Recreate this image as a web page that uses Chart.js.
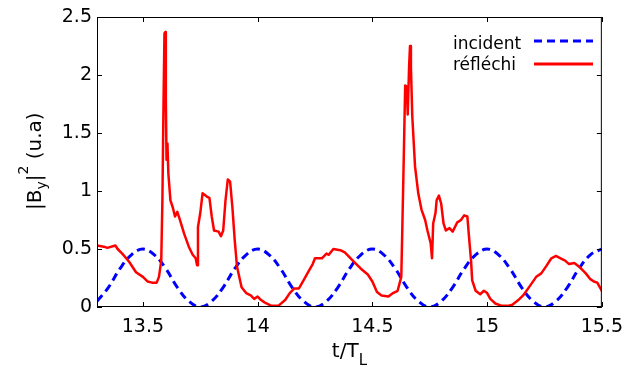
<!DOCTYPE html>
<html>
<head>
<meta charset="utf-8">
<script src="https://cdn.jsdelivr.net/npm/chart.js@4"></script>
<style>
  body { margin: 0; background: #fff; }
  #wrap { width: 632px; height: 367px; }
</style>
</head>
<body>
<div id="wrap"><canvas id="myChart"></canvas></div>
<script>
// incident field
const incidentT = [
  13.30, 13.35, 13.40, 13.45, 13.50, 13.55, 13.60, 13.65, 13.70, 13.75,
  13.80, 13.85, 13.90, 13.95, 14.00, 14.05, 14.10, 14.15, 14.20, 14.25,
  14.30, 14.35, 14.40, 14.45, 14.50, 14.55, 14.60, 14.65, 14.70, 14.75,
  14.80, 14.85, 14.90, 14.95, 15.00, 15.05, 15.10, 15.15, 15.20, 15.25,
  15.30, 15.35, 15.40, 15.45, 15.50,
];
const incidentB = [
  0.05, 0.17, 0.33, 0.45, 0.50, 0.45, 0.33, 0.17, 0.05, 0.00,
  0.05, 0.17, 0.33, 0.45, 0.50, 0.45, 0.33, 0.17, 0.05, 0.00,
  0.05, 0.17, 0.33, 0.45, 0.50, 0.45, 0.33, 0.17, 0.05, 0.00,
  0.05, 0.17, 0.33, 0.45, 0.50, 0.45, 0.33, 0.17, 0.05, 0.00,
  0.05, 0.17, 0.33, 0.45, 0.50,
];

// reflected field
const reflT = [
  13.300, 13.330, 13.345, 13.380, 13.390, 13.410, 13.440, 13.470, 13.500, 13.520,
  13.540, 13.560, 13.570, 13.580, 13.585, 13.590, 13.594, 13.598, 13.600, 13.603,
  13.607, 13.611, 13.620, 13.630, 13.640, 13.650, 13.660, 13.680, 13.700, 13.717,
  13.730, 13.736, 13.740, 13.750, 13.760, 13.780, 13.790, 13.800, 13.810, 13.830,
  13.840, 13.850, 13.860, 13.870, 13.880, 13.890, 13.900, 13.910, 13.930, 13.950,
  13.970, 13.985, 14.000, 14.015, 14.030, 14.060, 14.090, 14.120, 14.140, 14.160,
  14.180, 14.200, 14.220, 14.240, 14.250, 14.280, 14.300, 14.310, 14.330, 14.360,
  14.380, 14.400, 14.420, 14.450, 14.480, 14.500, 14.520, 14.540, 14.570, 14.590,
  14.610, 14.626, 14.630, 14.636, 14.643, 14.650, 14.654, 14.660, 14.664, 14.668,
  14.674, 14.686, 14.700, 14.714, 14.730, 14.740, 14.754, 14.760, 14.765, 14.775,
  14.780, 14.790, 14.800, 14.810, 14.820, 14.836, 14.850, 14.870, 14.886, 14.900,
  14.914, 14.920, 14.930, 14.935, 14.950, 14.970, 14.986, 15.000, 15.014, 15.036,
  15.064, 15.090, 15.110, 15.136, 15.157, 15.186, 15.214, 15.236, 15.257, 15.280,
  15.300, 15.320, 15.340, 15.357, 15.380, 15.400, 15.430, 15.450, 15.465, 15.480,
  15.500,
];
const reflB = [
  0.53, 0.52, 0.51, 0.53, 0.50, 0.46, 0.39, 0.30, 0.26, 0.22,
  0.21, 0.21, 0.26, 0.40, 0.92, 1.78, 2.36, 2.37, 1.78, 1.27,
  1.41, 1.15, 0.92, 0.86, 0.78, 0.82, 0.76, 0.63, 0.52, 0.45,
  0.42, 0.36, 0.69, 0.81, 0.98, 0.95, 0.94, 0.78, 0.66, 0.65,
  0.61, 0.66, 0.92, 1.10, 1.08, 0.86, 0.58, 0.35, 0.17, 0.12,
  0.10, 0.07, 0.09, 0.06, 0.04, 0.01, 0.01, 0.06, 0.12, 0.16,
  0.16, 0.23, 0.30, 0.37, 0.42, 0.42, 0.46, 0.45, 0.50, 0.49,
  0.47, 0.43, 0.39, 0.33, 0.28, 0.22, 0.13, 0.10, 0.09, 0.12,
  0.14, 0.26, 0.63, 1.21, 1.91, 1.90, 1.66, 2.07, 2.25, 2.07,
  1.64, 1.21, 0.98, 0.84, 0.75, 0.66, 0.55, 0.42, 0.72, 0.81,
  0.92, 0.96, 0.89, 0.72, 0.66, 0.68, 0.65, 0.73, 0.75, 0.79,
  0.78, 0.63, 0.40, 0.23, 0.14, 0.11, 0.14, 0.12, 0.07, 0.03,
  0.01, 0.01, 0.02, 0.06, 0.10, 0.18, 0.26, 0.29, 0.35, 0.42,
  0.44, 0.42, 0.40, 0.37, 0.38, 0.35, 0.29, 0.24, 0.22, 0.21,
  0.14,
];

const xTicks = [13.5, 14, 14.5, 15, 15.5];
const yTicks = [0, 0.5, 1, 1.5, 2, 2.5];
const seriesNames = ["incident", "réfléchi"];
const xTitle = ["t/T", "L"];
const yTitle = ["|B", "y", "|", "2", " (u.a)"];

const FONT = "DejaVu Sans";

function toPoints(xs, ys) {
  return xs.map((x, i) => ({ x: x, y: ys[i] }));
}

// frame, inward ticks, axis titles and legend, drawn like the original figure
const decorPlugin = {
  id: "decor",
  afterDraw(chart) {
    const ctx = chart.ctx;
    const a = chart.chartArea;
    const xs = chart.scales.x;
    const ys = chart.scales.y;
    ctx.save();
    ctx.strokeStyle = "#000";
    ctx.lineWidth = 1;
    ctx.strokeRect(a.left + 0.5, a.top + 0.5, a.right - a.left - 1, a.bottom - a.top - 1);

    const tl = 5;
    ctx.beginPath();
    xTicks.forEach((t) => {
      const px = Math.round(xs.getPixelForValue(t)) + 0.5;
      ctx.moveTo(px, a.bottom);
      ctx.lineTo(px, a.bottom - tl);
      ctx.moveTo(px, a.top);
      ctx.lineTo(px, a.top + tl);
    });
    yTicks.forEach((t) => {
      const py = Math.round(ys.getPixelForValue(t)) + 0.5;
      ctx.moveTo(a.left, py);
      ctx.lineTo(a.left + tl, py);
      ctx.moveTo(a.right, py);
      ctx.lineTo(a.right - tl, py);
    });
    ctx.stroke();

    // x title
    ctx.fillStyle = "#000";
    ctx.textBaseline = "alphabetic";
    ctx.font = "20px '" + FONT + "'";
    const w1 = ctx.measureText(xTitle[0]).width;
    ctx.font = "15px '" + FONT + "'";
    const w2 = ctx.measureText(xTitle[1]).width;
    const cx = (a.left + a.right) / 2;
    let x0 = cx - (w1 + w2) / 2;
    ctx.font = "20px '" + FONT + "'";
    ctx.fillText(xTitle[0], x0, 357);
    ctx.font = "15px '" + FONT + "'";
    ctx.fillText(xTitle[1], x0 + w1, 365);

    // y title
    ctx.save();
    ctx.translate(41, 210);
    ctx.rotate(-Math.PI / 2);
    let p = 0;
    const parts = [
      [yTitle[0], 20, 0],
      [yTitle[1], 14, 5],
      [yTitle[2], 20, 0],
      [yTitle[3], 14, -13],
      [yTitle[4], 20, 0],
    ];
    parts.forEach(([s, size, dy]) => {
      ctx.font = size + "px '" + FONT + "'";
      ctx.fillText(s, p, dy);
      p += ctx.measureText(s).width;
    });
    ctx.restore();

    // legend
    ctx.font = "17px '" + FONT + "'";
    ctx.fillText(seriesNames[0], 453, 49);
    ctx.fillText(seriesNames[1], 453, 70);
    ctx.lineWidth = 3;
    ctx.strokeStyle = "rgb(0,0,255)";
    ctx.setLineDash([8, 5]);
    ctx.beginPath();
    ctx.moveTo(534, 41);
    ctx.lineTo(593, 41);
    ctx.stroke();
    ctx.setLineDash([]);
    ctx.strokeStyle = "rgb(255,0,0)";
    ctx.beginPath();
    ctx.moveTo(534, 64);
    ctx.lineTo(593, 64);
    ctx.stroke();
    ctx.restore();
  },
};

const ctx = document.getElementById("myChart");
new Chart(ctx, {
  type: "line",
  data: {
    datasets: [
      {
        label: seriesNames[0],
        data: toPoints(incidentT, incidentB),
        borderColor: "rgb(0,0,255)",
        borderWidth: 3,
        borderDash: [8, 5],
        tension: 0.4,
        pointRadius: 0,
        fill: false,
        order: 1,
      },
      {
        label: seriesNames[1],
        data: toPoints(reflT, reflB),
        borderColor: "rgb(255,0,0)",
        borderWidth: 2.5,
        borderJoinStyle: "round",
        borderCapStyle: "round",
        tension: 0,
        pointRadius: 0,
        fill: false,
        order: 0,
      },
    ],
  },
  options: {
    responsive: true,
    maintainAspectRatio: false,
    animation: false,
    layout: { padding: { top: 17, right: 22, left: 0, bottom: 0 } },
    plugins: {
      legend: { display: false },
      title: { display: false },
      tooltip: { enabled: false },
    },
    scales: {
      x: {
        type: "linear",
        min: 13.3,
        max: 15.5,
        afterBuildTicks: (scale) => {
          scale.ticks = xTicks.map((v) => ({ value: v }));
        },
        afterFit: (scale) => {
          scale.height = 60;
        },
        grid: { display: false, drawTicks: false, tickLength: 0 },
        border: { display: false },
        ticks: {
          color: "#000",
          font: { family: FONT, size: 19 },
          padding: 9,
          maxRotation: 0,
          autoSkip: false,
          callback: (v) => String(v),
        },
      },
      y: {
        min: 0,
        max: 2.5,
        afterBuildTicks: (scale) => {
          scale.ticks = yTicks.map((v) => ({ value: v }));
        },
        afterFit: (scale) => {
          scale.width = 97;
        },
        grid: { display: false, drawTicks: false, tickLength: 0 },
        border: { display: false },
        ticks: {
          color: "#000",
          font: { family: FONT, size: 19 },
          padding: 5,
          callback: (v) => String(v),
        },
      },
    },
  },
  plugins: [decorPlugin],
});
</script>
</body>
</html>
